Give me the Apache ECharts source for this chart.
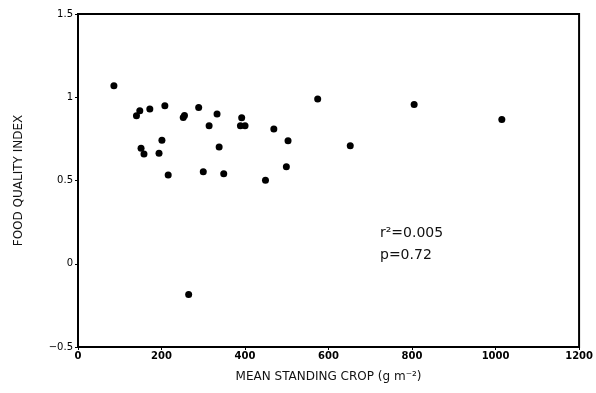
<!DOCTYPE html>
<html><head><meta charset="utf-8">
<script src="https://cdn.jsdelivr.net/npm/echarts@6/dist/echarts.min.js"></script>
<style>html,body{margin:0;padding:0;background:#fff}#c{width:596px;height:393px}</style>
</head><body><div id="c"></div>
<script>
const standingCrop = [86,140,148,172,208,151,158,201,194,216,252,255,289,314,333,338,300,349,392,389,400,449,469,503,499,574,652,805,1015,265];
const foodQuality = [1.069,0.889,0.919,0.929,0.949,0.693,0.659,0.741,0.663,0.533,0.879,0.891,0.939,0.829,0.899,0.701,0.553,0.541,0.877,0.829,0.829,0.501,0.809,0.739,0.583,0.989,0.709,0.957,0.867,-0.184];
const xTicks = [0,200,400,600,800,1000,1200];
const yTicks = [-0.5,0,0.5,1,1.5];
const statsText = ['r²=0.005','p=0.72'];

const chart = echarts.init(document.getElementById('c'));
const pts = standingCrop.map((x,i)=>[x,foodQuality[i]]);
chart.setOption({
  animation:false,
  grid:{left:78,right:16,top:14,bottom:46,show:true,borderColor:'#000',borderWidth:2},
  xAxis:{type:'value',min:xTicks[0],max:xTicks[xTicks.length-1],interval:200,
    name:'MEAN STANDING CROP (g m\u207B\u00B2)',nameLocation:'middle',nameGap:24,
    nameTextStyle:{fontFamily:'DejaVu Sans',fontSize:12,color:'#111'},
    axisLine:{onZero:false,lineStyle:{color:'#000',width:2}},
    axisTick:{show:true,length:3,lineStyle:{color:'#000',width:1}},
    axisLabel:{fontFamily:'DejaVu Sans',fontWeight:'bold',fontSize:10,color:'#000',margin:4,
      formatter:v=>String(v)},
    splitLine:{show:false}},
  yAxis:{type:'value',min:yTicks[0],max:yTicks[yTicks.length-1],interval:0.5,
    name:'FOOD QUALITY INDEX',nameLocation:'middle',nameGap:53,nameRotate:90,
    nameTextStyle:{fontFamily:'DejaVu Sans',fontSize:12,color:'#111'},
    axisLine:{onZero:false,lineStyle:{color:'#000',width:2}},
    axisTick:{show:true,length:3,lineStyle:{color:'#000',width:1}},
    axisLabel:{fontFamily:'DejaVu Sans',fontSize:10,color:'#000',margin:5,
      formatter:v=>String(v).replace('-','\u2212')},
    splitLine:{show:false}},
  series:[{type:'scatter',data:pts,symbol:'circle',symbolSize:7,itemStyle:{color:'#000',opacity:1}}],
  graphic:[{type:'text',left:380,top:222,style:{text:statsText.join('\n'),fontFamily:'DejaVu Sans',fontSize:14,lineHeight:22,fill:'#111'}}]
});
</script></body></html>
